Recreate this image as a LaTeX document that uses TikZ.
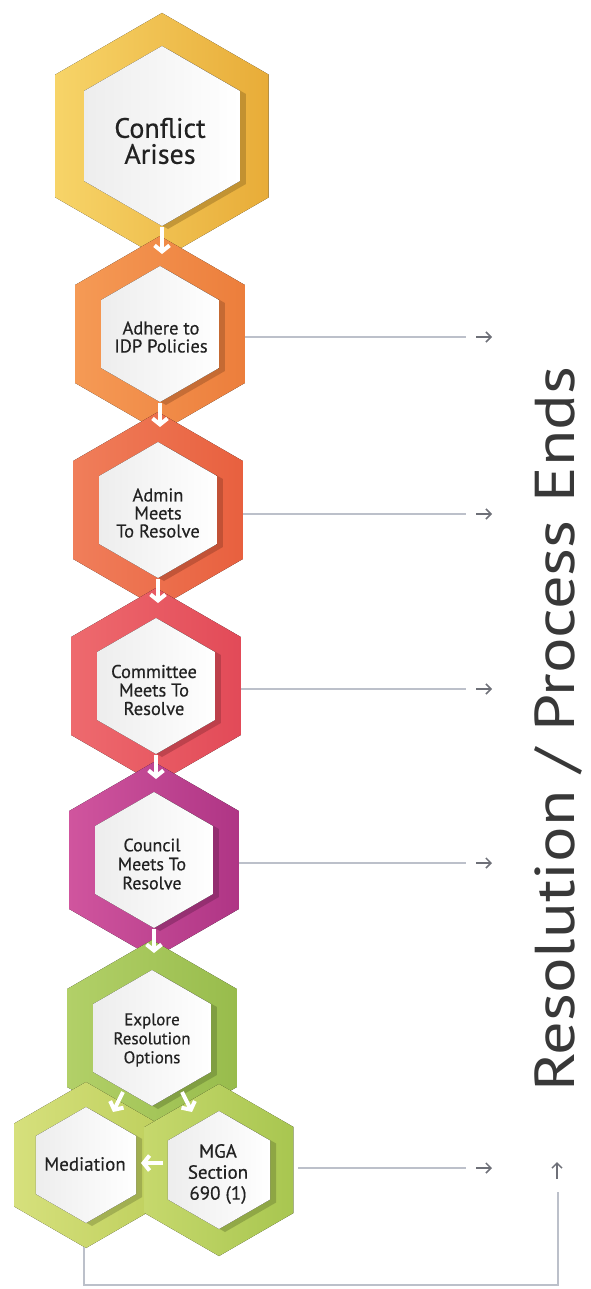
\documentclass[tikz,border=0pt]{standalone}
\usepackage{fontspec}
\usepackage{graphicx}
\setmainfont{PT Sans}
\newfontfamily\lblfont{PT Sans}[FakeBold=0.5]
\usetikzlibrary{arrows.meta,calc}

\definecolor{c1L}{HTML}{F7D468}\definecolor{c1R}{HTML}{E8AC38}
\definecolor{c2L}{HTML}{F59A55}\definecolor{c2R}{HTML}{EC7E3C}
\definecolor{c3L}{HTML}{F07E5A}\definecolor{c3R}{HTML}{E8603F}
\definecolor{c4L}{HTML}{EE6A6E}\definecolor{c4R}{HTML}{E24A58}
\definecolor{c5L}{HTML}{D0559E}\definecolor{c5R}{HTML}{AF3585}
\definecolor{c6L}{HTML}{B2D068}\definecolor{c6R}{HTML}{98BC4C}
\definecolor{cmL}{HTML}{D6E07C}\definecolor{cmR}{HTML}{BFD05E}
\definecolor{cgL}{HTML}{C6D86C}\definecolor{cgR}{HTML}{A8C650}
\definecolor{connc}{HTML}{BCC0CA}
\definecolor{tipc}{HTML}{6E7078}
\definecolor{txt}{HTML}{222222}

% ring: cx, cy, R, left colour, right colour
\newcommand{\hexring}[5]{%
  \fill[left color=#4, right color=#5] (#1,#2) +(90:#3) -- +(30:#3) -- +(-30:#3) -- +(-90:#3) -- +(-150:#3) -- +(150:#3) -- cycle;}
% inner white with shadow: cx, cy, r, shadow colour
\newcommand{\hexhole}[4]{%
  \fill[#4, opacity=0.55] ($(#1,#2)+(6,3)$) +(90:#3) -- +(30:#3) -- +(-30:#3) -- +(-90:#3) -- +(-150:#3) -- +(150:#3) -- cycle;
  \fill[left color=black!7, right color=white] (#1,#2) +(90:#3) -- +(30:#3) -- +(-30:#3) -- +(-90:#3) -- +(-150:#3) -- +(150:#3) -- cycle;}

\begin{document}
\begin{tikzpicture}[x=1pt,y=-1pt,
  lbl/.style={align=center, text=txt, inner sep=0pt},
  conn/.style={draw=connc, line width=2pt},
  tipa/.style={draw=tipc, line width=1.5pt, -{Straight Barb[length=5pt,width=10pt]}},
  junc/.style={draw=white, line width=4pt, -{Straight Barb[length=6pt,width=15pt]}}]
\useasboundingbox (0,0) rectangle (590,1289);

% rings
\hexring{162}{136}{123}{c1L}{c1R}
\hexring{160}{334}{98}{c2L}{c2R}
\hexring{158}{510}{98}{c3L}{c3R}
\hexring{156}{686}{98}{c4L}{c4R}
\hexring{154}{860}{98}{c5L}{c5R}
\hexring{152}{1038}{98}{c6L}{c6R}
\hexring{86}{1165}{83}{cmL}{cmR}
\hexring{219}{1170}{86}{cgL}{cgR}

% holes
\hexhole{162}{136}{90}{c1R!70!black}
\hexhole{160}{334}{68}{c2R!70!black}
\hexhole{158}{510}{68}{c3R!70!black}
\hexhole{156}{686}{68}{c4R!70!black}
\hexhole{154}{860}{68}{c5R!70!black}
\hexhole{152}{1038}{68}{c6R!70!black}
\hexhole{86}{1165}{58}{cmR!70!black}
\hexhole{219}{1170}{59}{cgR!70!black}

% labels
\node[lbl, font=\lblfont\fontsize{28}{26}\selectfont] (h1) at (160,141) {Conflict\\Arises};
\node[lbl, font=\lblfont\fontsize{18.5}{18}\selectfont] (h2) at (161,337) {Adhere to\\IDP Policies};
\node[lbl, font=\lblfont\fontsize{18.5}{18}\selectfont] (h3) at (158,513) {Admin\\Meets\\To Resolve};
\node[lbl, font=\lblfont\fontsize{18.5}{18.5}\selectfont] (h4) at (154,690) {Committee\\Meets To\\Resolve};
\node[lbl, font=\lblfont\fontsize{18}{19}\selectfont] (h5) at (152,864) {Council\\Meets To\\Resolve};
\node[lbl, font=\lblfont\fontsize{17}{19}\selectfont] (h6) at (152,1040) {Explore\\Resolution\\Options};
\node[lbl, font=\lblfont\fontsize{19}{19}\selectfont] (med) at (85,1164) {Mediation};
\node[lbl, font=\lblfont\fontsize{19}{21}\selectfont] (mga) at (218,1174) {MGA\\Section\\690 (1)};

% junction arrows
\coordinate (j1a) at (162,227); \coordinate (j1b) at (162,254);
\coordinate (j2a) at (160,403); \coordinate (j2b) at (160,427);
\coordinate (j3a) at (158,579); \coordinate (j3b) at (158,603);
\coordinate (j4a) at (156,755); \coordinate (j4b) at (156,779);
\coordinate (j5a) at (154,929); \coordinate (j5b) at (154,953);
\coordinate (j6a) at (123,1092); \coordinate (j6b) at (113,1112);
\coordinate (j7a) at (182,1092); \coordinate (j7b) at (192,1112);
\coordinate (j8a) at (163,1163); \coordinate (j8b) at (141,1163);
\foreach \a/\b in {j1a/j1b,j2a/j2b,j3a/j3b,j4a/j4b,j5a/j5b,j6a/j6b,j7a/j7b,j8a/j8b}
  \draw[junc] (\a) -- (\b);

% side connectors
\foreach \n/\x/\y in {2/245/337, 3/243/514, 4/241/689, 5/239/863, 9/298/1168}{
  \coordinate (s\n) at (\x,\y);
  \coordinate (e\n) at (466,\y);
  \coordinate (t\n) at (476,\y);
  \coordinate (u\n) at (492,\y);
  \draw[conn] (s\n) -- (e\n);
  \draw[tipa] (t\n) -- (u\n);
}

% bottom return connector
\coordinate (mb) at (84,1247);
\coordinate (rb) at (558,1192);
\coordinate (ra) at (557,1179);
\coordinate (rt) at (557,1162);
\draw[conn] (mb) |- (558,1285) -- (rb);
\draw[tipa] (ra) -- (rt);

% big rotated title
\node[rotate=90, anchor=base west, inner sep=0pt, text=black!78] (res) at (574,1092)
  {\resizebox{725pt}{40pt}{\fontsize{56}{60}\selectfont Resolution / Process Ends}};
\end{tikzpicture}
\end{document}
